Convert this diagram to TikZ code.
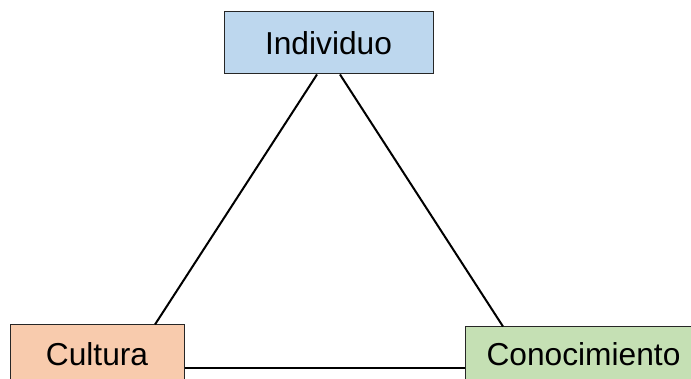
\documentclass[tikz,border=0pt]{standalone}
\usepackage{fontspec}
\setmainfont{Liberation Sans}
\definecolor{bluefill}{HTML}{BDD7EE}
\definecolor{orangefill}{HTML}{F8CBAD}
\definecolor{greenfill}{HTML}{C5E0B4}
\begin{document}
\begin{tikzpicture}[x=1pt,y=-1pt,
  box/.style={draw=black!85, line width=1pt, rectangle, inner sep=0pt,
    font=\fontsize{31.7}{38}\selectfont, text height=22.7pt, text depth=0pt},
  link/.style={line width=2pt, black}]
  \useasboundingbox (0,0) rectangle (691,379);
  \clip (0,0) rectangle (691,379);
  % the three corners of the triangle
  \node[box, fill=bluefill, minimum width=209pt, minimum height=62pt] (ind) at (328.5,43) {Individuo};
  \node[box, fill=orangefill, minimum width=174pt, minimum height=58pt] (cul) at (97,354) {Cultura};
  \node[box, fill=greenfill, minimum width=237pt, minimum height=54pt] (con) at (583.5,354) {Conocimiento};
  % sides of the triangle
  \draw[link] ([xshift=-11.5pt]ind.south) -- ([xshift=58pt]cul.north);
  \draw[link] ([xshift=11.5pt]ind.south) -- ([xshift=-80.5pt]con.north);
  \draw[link] ([yshift=-14pt]cul.east) -- ([yshift=-14pt]con.west);
\end{tikzpicture}
\end{document}
